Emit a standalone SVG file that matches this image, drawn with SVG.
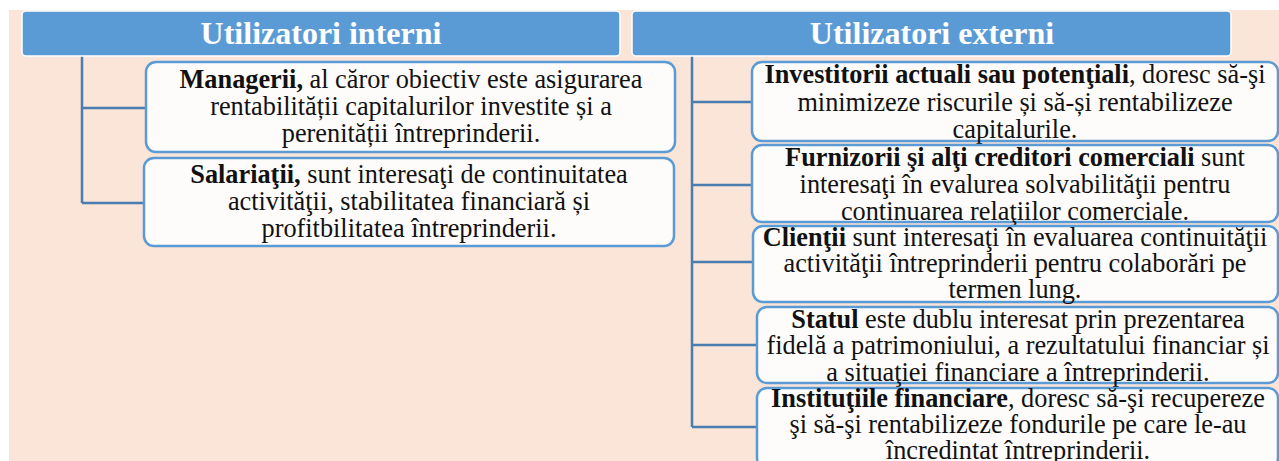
<svg xmlns="http://www.w3.org/2000/svg" width="1279" height="461" viewBox="0 0 1279 461">
<style>
.hdr{fill:#5B9BD5;stroke:#FFFFFF;stroke-width:1.5}
.ht{font-family:"Liberation Serif",serif;font-weight:bold;font-size:32px;fill:#FFFFFF;text-anchor:middle}
.box{fill:#FDFCFA;stroke:#5B9BD5;stroke-width:2.5}
.t{font-family:"Liberation Serif",serif;font-size:26.3px;fill:#111111;text-anchor:middle}
.b{font-weight:bold}
.con{fill:none;stroke:#4A7DB0;stroke-width:2.5}
</style>
<rect x="0" y="0" width="1279" height="461" fill="#FFFFFF"/>
<rect x="9" y="10" width="1270" height="451" fill="#FAE5D8"/>
<g id="connectors">
<path class="con" d="M82,56 V203 M82,108 H146 M82,203 H144"/>
<path class="con" d="M692,56 V427 M692,102 H752 M692,185 H752 M692,262 H752 M692,345 H757 M692,427 H757"/>
</g>
<g id="hdr-interni">
<rect class="hdr" x="22" y="11" width="598" height="45" rx="4"/>
<text class="ht" x="321" y="44">Utilizatori interni</text>
</g>
<g id="hdr-externi">
<rect class="hdr" x="632" y="11" width="599" height="45" rx="4"/>
<text class="ht" x="932" y="44">Utilizatori externi</text>
</g>
<g id="managerii">
<rect class="box" x="146" y="62" width="529" height="90" rx="10"/>
<text class="t" x="411" y="88"><tspan class="b">Managerii,</tspan> al căror obiectiv este asigurarea</text>
<text class="t" x="411" y="115">rentabilității capitalurilor investite și a</text>
<text class="t" x="411" y="142">perenității întreprinderii.</text>
</g>
<g id="salariatii">
<rect class="box" x="144" y="158" width="530" height="88" rx="10"/>
<text class="t" x="409" y="183"><tspan class="b">Salariaţii,</tspan> sunt interesaţi de continuitatea</text>
<text class="t" x="409" y="210">activităţii, stabilitatea financiară și</text>
<text class="t" x="409" y="237">profitbilitatea întreprinderii.</text>
</g>
<g id="investitorii">
<rect class="box" x="752" y="62" width="526" height="79" rx="10"/>
<text class="t" x="1015" y="83"><tspan class="b">Investitorii actuali sau potenţiali</tspan>, doresc să-şi</text>
<text class="t" x="1015" y="111">minimizeze riscurile și să-și rentabilizeze</text>
<text class="t" x="1015" y="138">capitalurile.</text>
</g>
<g id="furnizorii">
<rect class="box" x="752" y="145" width="526" height="77" rx="10"/>
<text class="t" x="1015" y="166"><tspan class="b">Furnizorii şi alţi creditori comerciali</tspan> sunt</text>
<text class="t" x="1015" y="193">interesaţi în evalurea solvabilităţii pentru</text>
<text class="t" x="1015" y="220">continuarea relaţiilor comerciale.</text>
</g>
<g id="clientii">
<rect class="box" x="753" y="226" width="525" height="76" rx="10"/>
<text class="t" x="1015" y="246"><tspan class="b">Clienţii</tspan> sunt interesaţi în evaluarea continuităţii</text>
<text class="t" x="1015" y="272">activităţii întreprinderii pentru colaborări pe</text>
<text class="t" x="1015" y="298">termen lung.</text>
</g>
<g id="statul">
<rect class="box" x="757" y="307" width="521" height="76" rx="10"/>
<text class="t" x="1018" y="328"><tspan class="b">Statul</tspan> este dublu interesat prin prezentarea</text>
<text class="t" x="1018" y="354">fidelă a patrimoniului, a rezultatului financiar și</text>
<text class="t" x="1018" y="381">a situaţiei financiare a întreprinderii.</text>
</g>
<g id="institutiile">
<rect class="box" x="757" y="388" width="521" height="80" rx="10"/>
<text class="t" x="1018" y="407"><tspan class="b">Instituţiile financiare</tspan>, doresc să-şi recupereze</text>
<text class="t" x="1018" y="433">şi să-şi rentabilizeze fondurile pe care le-au</text>
<text class="t" x="1018" y="459">încredintat întreprinderii.</text>
</g>
</svg>
